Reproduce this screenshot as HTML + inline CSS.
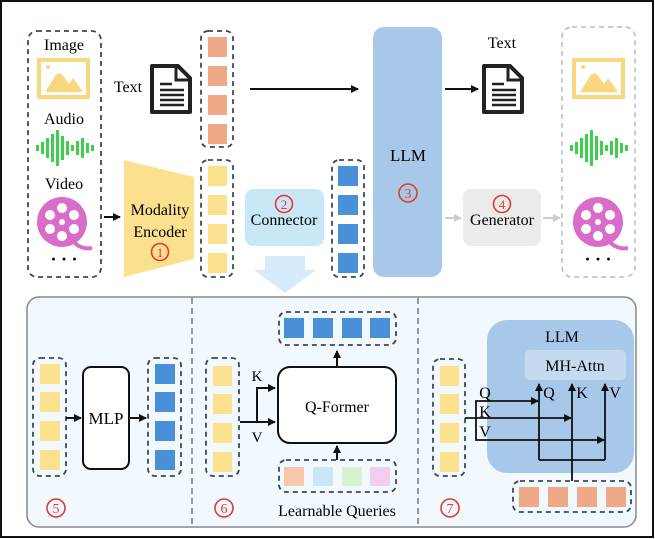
<!DOCTYPE html>
<html><head><meta charset="utf-8"><style>
html,body{margin:0;padding:0;background:#fff;}
svg{display:block;font-family:"Liberation Serif",serif;}
</style></head><body>
<svg width="655" height="539" viewBox="0 0 655 539" xmlns="http://www.w3.org/2000/svg">
<defs>
<marker id="ah" markerWidth="8" markerHeight="8" refX="7" refY="4" orient="auto" markerUnits="userSpaceOnUse"><path d="M0,0 L8,4 L0,8 z" fill="#111"/></marker>
<marker id="ahg" markerWidth="8" markerHeight="8" refX="7" refY="4" orient="auto" markerUnits="userSpaceOnUse"><path d="M0,0 L8,4 L0,8 z" fill="#ccc"/></marker>
<g id="img">
<rect x="2" y="2" width="49" height="37" fill="#fff" stroke="#f9d77e" stroke-width="4"/>
<polygon points="8,34 22,12 32,26 36,20 46,34" fill="#f9d77e"/>
<polygon points="19,17 22,12 25,17 22,15" fill="#fff"/>
<circle cx="11" cy="9" r="2" fill="#f9d77e"/>
</g>
<g id="wave" fill="#3fcf4c">
<rect x="0" y="-3" width="3" height="6"/><rect x="5" y="-6" width="3" height="12"/><rect x="10" y="-10" width="3" height="20"/>
<rect x="15" y="-14" width="3" height="28"/><rect x="20" y="-18" width="3" height="36"/><rect x="25" y="-12" width="3" height="24"/>
<rect x="30" y="-7" width="3" height="14"/><rect x="35" y="-3" width="3" height="6"/><rect x="40" y="-7" width="3" height="14"/>
<rect x="45" y="-10" width="3" height="20"/><rect x="50" y="-5" width="3" height="10"/><rect x="55" y="-3" width="3" height="6"/>
</g>
<g id="reel">
<path d="M10,18 Q18,28 30,26" stroke="#d86cc8" stroke-width="4" fill="none"/>
<circle cx="0" cy="0" r="25" fill="#d86cc8"/>
<circle cx="0" cy="-14" r="5" fill="#fff"/><circle cx="12" cy="-7" r="5" fill="#fff"/><circle cx="12" cy="7" r="5" fill="#fff"/>
<circle cx="0" cy="14" r="5" fill="#fff"/><circle cx="-12" cy="7" r="5" fill="#fff"/><circle cx="-12" cy="-7" r="5" fill="#fff"/>
<circle cx="0" cy="0" r="3" fill="#fff"/>
</g>
<g id="doc">
<path d="M2,2 L28,2 L40,14 L40,48 L2,48 Z" fill="#fff" stroke="#222" stroke-width="4" stroke-linejoin="round"/>
<path d="M26,2 L26,16 L40,16" fill="none" stroke="#222" stroke-width="3"/>
<path d="M10,20 h12 M10,26 h24 M10,31 h24 M10,36 h24 M10,41 h24" stroke="#222" stroke-width="2.5"/>
</g>
</defs>
<rect x="1" y="1" width="652" height="536" fill="#fff" stroke="#111" stroke-width="2"/>

<!-- left inputs -->
<rect x="28" y="31" width="73" height="246" rx="9" fill="none" stroke="#3a4a55" stroke-width="1.8" stroke-dasharray="5,4"/>
<text x="64" y="50" font-size="16" text-anchor="middle">Image</text>
<use href="#img" x="37" y="58"/>
<text x="64" y="124" font-size="16" text-anchor="middle">Audio</text>
<use href="#wave" x="36" y="148"/>
<text x="64" y="189" font-size="16" text-anchor="middle">Video</text>
<use href="#reel" x="62" y="222"/>
<text x="64" y="265" font-size="18" text-anchor="middle" font-weight="bold">· · ·</text>
<line x1="104" y1="217" x2="120" y2="217" stroke="#111" stroke-width="2" marker-end="url(#ah)"/>

<polygon points="124,160 194,177 194,259 124,277" fill="#fbe08e"/>
<text x="160" y="215" font-size="16" text-anchor="middle">Modality</text>
<text x="160" y="237" font-size="16" text-anchor="middle">Encoder</text>
<circle cx="160" cy="252" r="8.5" fill="none" stroke="#e53a2f" stroke-width="1.6"/>
<text x="160" y="257" font-size="13" text-anchor="middle" fill="#e53a2f">1</text>

<text x="128" y="92" font-size="16" text-anchor="middle">Text</text>
<use href="#doc" x="150" y="64"/>

<rect x="201" y="31" width="32" height="116" rx="7" fill="none" stroke="#3a4a55" stroke-width="1.8" stroke-dasharray="5,4"/>
<g fill="#f0a986"><rect x="208" y="37" width="19" height="20"/><rect x="208" y="66" width="19" height="20"/><rect x="208" y="95" width="19" height="20"/><rect x="208" y="124" width="19" height="20"/></g>
<rect x="201" y="160" width="32" height="117" rx="7" fill="none" stroke="#3a4a55" stroke-width="1.8" stroke-dasharray="5,4"/>
<g fill="#fbe08e"><rect x="208" y="166" width="19" height="20"/><rect x="208" y="195" width="19" height="20"/><rect x="208" y="224" width="19" height="20"/><rect x="208" y="253" width="19" height="20"/></g>

<rect x="245" y="189" width="79" height="57" rx="8" fill="#c8e8f8"/>
<circle cx="284" cy="204" r="8.5" fill="none" stroke="#e53a2f" stroke-width="1.6"/>
<text x="284" y="209" font-size="13" text-anchor="middle" fill="#e53a2f">2</text>
<text x="284" y="225" font-size="16" text-anchor="middle">Connector</text>
<polygon points="265,256 305,256 305,270 316,270 285,293 254,270 265,270" fill="#d6ecfa"/>

<rect x="332" y="160" width="32" height="117" rx="7" fill="none" stroke="#3a4a55" stroke-width="1.8" stroke-dasharray="5,4"/>
<g fill="#4a90d9"><rect x="338" y="166" width="20" height="20"/><rect x="338" y="195" width="20" height="20"/><rect x="338" y="224" width="20" height="20"/><rect x="338" y="253" width="20" height="20"/></g>

<line x1="250" y1="89" x2="358" y2="89" stroke="#111" stroke-width="2" marker-end="url(#ah)"/>
<rect x="373" y="27" width="69" height="250" rx="11" fill="#a8c8ea"/>
<text x="408" y="161" font-size="17" text-anchor="middle">LLM</text>
<circle cx="408" cy="193" r="9" fill="none" stroke="#e53a2f" stroke-width="1.6"/>
<text x="408" y="198" font-size="14" text-anchor="middle" fill="#e53a2f">3</text>
<line x1="445" y1="89" x2="478" y2="89" stroke="#111" stroke-width="2" marker-end="url(#ah)"/>
<text x="502" y="48" font-size="16" text-anchor="middle">Text</text>
<use href="#doc" x="482" y="64"/>

<line x1="445" y1="218" x2="461" y2="218" stroke="#ccc" stroke-width="2" marker-end="url(#ahg)"/>
<rect x="463" y="189" width="78" height="57" rx="8" fill="#ebebeb"/>
<circle cx="502" cy="204" r="8.5" fill="none" stroke="#e53a2f" stroke-width="1.6"/>
<text x="502" y="209" font-size="13" text-anchor="middle" fill="#e53a2f">4</text>
<text x="502" y="225" font-size="16" text-anchor="middle">Generator</text>
<line x1="543" y1="218" x2="560" y2="218" stroke="#ccc" stroke-width="2" marker-end="url(#ahg)"/>

<rect x="562" y="27" width="73" height="250" rx="10" fill="none" stroke="#bbb" stroke-width="1.5" stroke-dasharray="5,4"/>
<use href="#img" x="572" y="58"/>
<use href="#wave" x="570" y="148"/>
<use href="#reel" x="598" y="222"/>
<text x="598" y="265" font-size="18" text-anchor="middle" font-weight="bold">· · ·</text>

<!-- bottom panel -->
<rect x="27" y="297" width="609" height="230" rx="12" fill="#f1f8fe" stroke="#888" stroke-width="1.5"/>
<line x1="192" y1="298" x2="192" y2="526" stroke="#777" stroke-width="1.5" stroke-dasharray="6,4"/>
<line x1="418" y1="298" x2="418" y2="526" stroke="#777" stroke-width="1.5" stroke-dasharray="6,4"/>

<!-- section 5 -->
<rect x="33" y="358" width="33" height="118" rx="7" fill="none" stroke="#3a4a55" stroke-width="1.8" stroke-dasharray="5,4"/>
<g fill="#fbe08e"><rect x="40" y="364" width="20" height="20"/><rect x="40" y="392" width="20" height="20"/><rect x="40" y="421" width="20" height="20"/><rect x="40" y="450" width="20" height="20"/></g>
<line x1="66" y1="418" x2="81" y2="418" stroke="#111" stroke-width="2" marker-end="url(#ah)"/>
<rect x="83" y="367" width="46" height="102" rx="8" fill="#fff" stroke="#111" stroke-width="2"/>
<text x="106" y="424" font-size="17" text-anchor="middle">MLP</text>
<line x1="129" y1="418" x2="146" y2="418" stroke="#111" stroke-width="2" marker-end="url(#ah)"/>
<rect x="148" y="358" width="33" height="118" rx="7" fill="none" stroke="#3a4a55" stroke-width="1.8" stroke-dasharray="5,4"/>
<g fill="#4a90d9"><rect x="155" y="364" width="20" height="20"/><rect x="155" y="392" width="20" height="20"/><rect x="155" y="421" width="20" height="20"/><rect x="155" y="450" width="20" height="20"/></g>
<circle cx="56" cy="508" r="9" fill="none" stroke="#e53a2f" stroke-width="1.6"/>
<text x="56" y="513" font-size="14" text-anchor="middle" fill="#e53a2f">5</text>

<!-- section 6 -->
<rect x="206" y="358" width="33" height="118" rx="7" fill="none" stroke="#3a4a55" stroke-width="1.8" stroke-dasharray="5,4"/>
<g fill="#fbe08e"><rect x="213" y="366" width="19" height="20"/><rect x="213" y="394" width="19" height="20"/><rect x="213" y="423" width="19" height="20"/><rect x="213" y="452" width="19" height="20"/></g>
<line x1="240" y1="422" x2="275" y2="422" stroke="#111" stroke-width="2" marker-end="url(#ah)"/>
<polyline points="257,422 257,388 275,388" fill="none" stroke="#111" stroke-width="2" marker-end="url(#ah)"/>
<text x="257" y="381" font-size="15" text-anchor="middle">K</text>
<text x="257" y="442" font-size="15" text-anchor="middle">V</text>
<rect x="278" y="367" width="118" height="76" rx="12" fill="#fff" stroke="#111" stroke-width="2"/>
<text x="337" y="412" font-size="16" text-anchor="middle">Q-Former</text>
<line x1="337" y1="367" x2="337" y2="351" stroke="#111" stroke-width="2" marker-end="url(#ah)"/>
<rect x="279" y="312" width="117" height="33" rx="7" fill="none" stroke="#3a4a55" stroke-width="1.8" stroke-dasharray="5,4"/>
<g fill="#4a90d9"><rect x="284" y="318" width="20" height="20"/><rect x="313" y="318" width="20" height="20"/><rect x="342" y="318" width="20" height="20"/><rect x="370" y="318" width="20" height="20"/></g>
<line x1="337" y1="460" x2="337" y2="446" stroke="#111" stroke-width="2" marker-end="url(#ah)"/>
<rect x="279" y="460" width="117" height="32" rx="7" fill="none" stroke="#3a4a55" stroke-width="1.8" stroke-dasharray="5,4"/>
<rect x="284" y="467" width="20" height="19" fill="#f7c8ab"/><rect x="313" y="467" width="20" height="19" fill="#c8e6f6"/><rect x="342" y="467" width="20" height="19" fill="#d9f1d3"/><rect x="370" y="467" width="20" height="19" fill="#f3cdee"/>
<text x="337" y="516" font-size="16" text-anchor="middle">Learnable Queries</text>
<circle cx="224" cy="508" r="9" fill="none" stroke="#e53a2f" stroke-width="1.6"/>
<text x="224" y="513" font-size="14" text-anchor="middle" fill="#e53a2f">6</text>

<!-- section 7 -->
<rect x="487" y="320" width="147" height="153" rx="20" fill="#a8c8ea"/>
<text x="562" y="342" font-size="16" text-anchor="middle">LLM</text>
<rect x="525" y="350" width="101" height="30" rx="5" fill="#c5daf0"/>
<text x="575" y="371" font-size="16" text-anchor="middle">MH-Attn</text>
<rect x="433" y="359" width="32" height="117" rx="7" fill="none" stroke="#3a4a55" stroke-width="1.8" stroke-dasharray="5,4"/>
<g fill="#fbe08e"><rect x="440" y="366" width="19" height="20"/><rect x="440" y="394" width="19" height="20"/><rect x="440" y="423" width="19" height="20"/><rect x="440" y="452" width="19" height="20"/></g>
<line x1="465" y1="418" x2="571" y2="418" stroke="#111" stroke-width="1.8" marker-end="url(#ah)"/>
<polyline points="476,418 476,401 538,401" fill="none" stroke="#111" stroke-width="1.8" marker-end="url(#ah)"/>
<polyline points="476,418 476,440 604,440" fill="none" stroke="#111" stroke-width="1.8" marker-end="url(#ah)"/>
<text x="485" y="398" font-size="16" text-anchor="middle">Q</text>
<text x="485" y="417" font-size="16" text-anchor="middle">K</text>
<text x="485" y="437" font-size="16" text-anchor="middle">V</text>
<polyline points="539,460 605,460" fill="none" stroke="#111" stroke-width="1.8"/>
<line x1="539" y1="460" x2="539" y2="384" stroke="#111" stroke-width="1.8" marker-end="url(#ah)"/>
<line x1="572" y1="481" x2="572" y2="384" stroke="#111" stroke-width="1.8" marker-end="url(#ah)"/>
<line x1="605" y1="460" x2="605" y2="384" stroke="#111" stroke-width="1.8" marker-end="url(#ah)"/>
<text x="549" y="398" font-size="16" text-anchor="middle">Q</text>
<text x="582" y="398" font-size="16" text-anchor="middle">K</text>
<text x="615" y="398" font-size="16" text-anchor="middle">V</text>
<rect x="513" y="481" width="118" height="31" rx="7" fill="none" stroke="#3a4a55" stroke-width="1.8" stroke-dasharray="5,4"/>
<g fill="#f0a986"><rect x="519" y="487" width="20" height="20"/><rect x="548" y="487" width="20" height="20"/><rect x="577" y="487" width="20" height="20"/><rect x="606" y="487" width="20" height="20"/></g>
<circle cx="450" cy="508" r="9" fill="none" stroke="#e53a2f" stroke-width="1.6"/>
<text x="450" y="513" font-size="14" text-anchor="middle" fill="#e53a2f">7</text>
</svg>
</body></html>
